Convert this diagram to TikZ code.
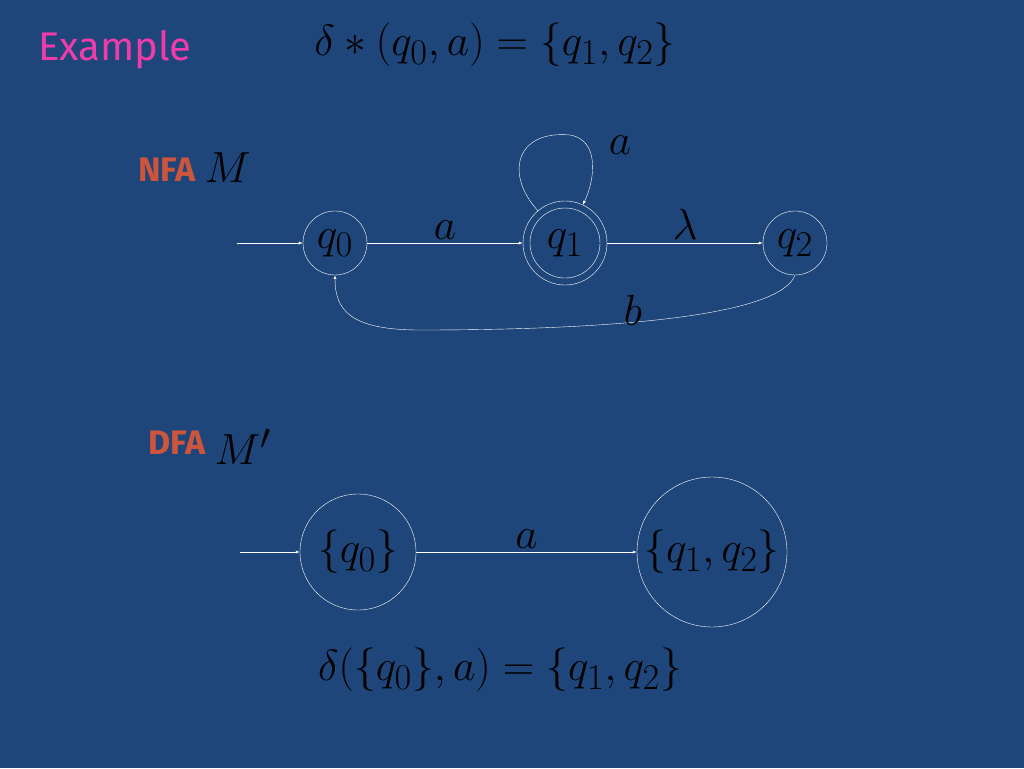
\documentclass[tikz,border=0pt]{standalone}
\usepackage{fontspec}
\usepackage{graphicx}
\setsansfont{Fira Sans}
\usetikzlibrary{positioning}
\definecolor{slide}{RGB}{31,70,122}
\definecolor{pinkish}{RGB}{240,60,170}
\definecolor{rust}{RGB}{205,85,60}
\newcommand{\Sk}[1]{\scalebox{1.75}{$#1$}}
\tikzset{
  State/.style={draw=white,circle,minimum size=#1,inner sep=0pt}, % Zustaende
  Kante/.style={draw=white,->,thin}, % Uebergaenge
  Big/.style={font=\Huge}
}
\begin{document}
\begin{tikzpicture}[x=1pt,y=-1pt,>=latex]
\fill[slide] (0,0) rectangle (1024,768);
\useasboundingbox (0,0) rectangle (1024,768);

%Titel
\node[text=pinkish,font=\sffamily\fontsize{40}{40}\selectfont] (title) at (115,50) {Example};
\node[Big] (dstar) at (495,45) {\Sk{\delta*(q_0,a)=\{q_1,q_2\}}};

%NFA
\node[text=rust,font=\sffamily\bfseries\fontsize{34}{34}\selectfont] (nfa) at (167,170) {NFA};
\node[Big,right=2pt of nfa,yshift=2pt] (M) {\Sk{M}};
\node[State=64pt,Big] (q0) at (335,243) {\Sk{q_0}};
\node[State=84pt] (q1) at (565,243) {};
\node[State=70pt,Big] (q1i) at (565,243) {\Sk{q_1}};
\node[State=64pt,Big] (q2) at (795,243) {\Sk{q_2}};
\coordinate (s1) at (237,243);
\draw[Kante] (s1) -- (q0);
\draw[Kante] (q0) -- node[above=0pt,Big]{\Sk{a}} (q1);
\draw[Kante] (q1) -- node[above=0pt,Big]{\Sk{\lambda}} (q2);
\draw[Kante] (q1.130) .. controls (505,175) and (515,130) .. (570,135) .. controls (600,140) and (595,180) .. (q1.65);
\node[Big] (la) at (620,145) {\Sk{a}};
\draw[Kante] (q2.south) .. controls (780,315) and (620,330) .. (420,330) .. controls (350,330) and (335,310) .. (q0.south);
\node[Big] (lb) at (633,310) {\Sk{b}};

%DFA
\node[text=rust,font=\sffamily\bfseries\fontsize{34}{34}\selectfont] (dfa) at (177,443) {DFA};
\node[Big,right=2pt of dfa,yshift=-4pt] (Mp) {\Sk{M'}};
\node[State=116pt,Big] (d0) at (358,552) {\Sk{\{q_0\}}};
\node[State=150pt,Big] (d1) at (712,552) {\Sk{\{q_1,q_2\}}};
\coordinate (s2) at (240,552);
\draw[Kante] (s2) -- (d0);
\draw[Kante] (d0) -- node[above=0pt,Big]{\Sk{a}} (d1);
\node[Big] (delta) at (500,670) {\Sk{\delta\bigl(\{q_0\},a\bigr)=\{q_1,q_2\}}};
\end{tikzpicture}
\end{document}
